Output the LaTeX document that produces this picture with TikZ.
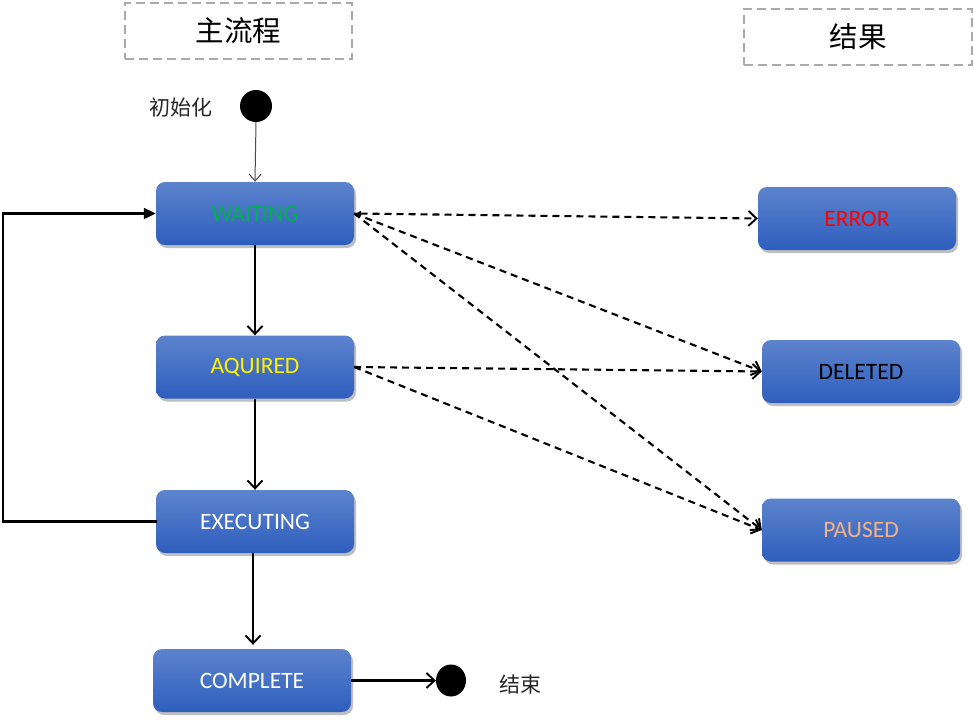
\documentclass[tikz,border=0pt]{standalone}
\usepackage{fontspec}
\setmainfont{Carlito}
\newfontfamily\cjk{Noto Sans CJK SC}
\usetikzlibrary{arrows.meta,shadows,positioning,shapes.geometric}
\definecolor{boxtop}{RGB}{92,131,205}
\definecolor{boxbot}{RGB}{46,94,189}
\definecolor{gframe}{RGB}{170,170,170}
\definecolor{wgreen}{RGB}{0,176,80}
\definecolor{porange}{RGB}{244,177,131}
\tikzset{
  statebox/.style={rectangle, rounded corners=9pt, minimum width=198pt, minimum height=63pt,
    inner sep=0pt, top color=boxtop, bottom color=boxbot, draw=none,
    drop shadow={shadow xshift=2pt, shadow yshift=-3pt, opacity=0.25, fill=black},
    font=\fontsize{23.5}{26}\selectfont},
  titlebox/.style={rectangle, draw=gframe, line width=2.2pt, dash pattern=on 9pt off 5pt,
    inner sep=0pt, font=\cjk\fontsize{28.5}{32}\selectfont},
  dot/.style={ellipse, fill=black, inner sep=0pt, minimum width=32pt, minimum height=32pt},
  lbl/.style={font=\cjk\fontsize{21}{24}\selectfont, text=black!85},
  tipo/.tip={Straight Barb[length=8pt,width=15pt,line width=1.9pt]},
  flow/.style={line width=2.1pt, -tipo},
  dflow/.style={line width=2.1pt, dash pattern=on 7pt off 5pt, -tipo},
}
\begin{document}
\begin{tikzpicture}[x=1pt,y=-1pt]
\useasboundingbox (0,0) rectangle (974,726);
\fill[white] (0,0) rectangle (974,726);
% titles
\node[titlebox, minimum width=227pt, minimum height=56pt] (tmain) at (238.5,31) {主流程};
\node[titlebox, minimum width=228pt, minimum height=56pt] (tres) at (858,37) {结果};
% start / end
\node[dot] (start) at (256,106) {};
\node[lbl] (initl) at (181,108) {初始化};
\node[dot, minimum width=30pt] (end) at (451,680.5) {};
\node[lbl] (endl) at (520,684) {结束};
% states
\node[statebox, text=wgreen] (waiting) at (255,213.5) {WAITING};
\node[statebox, text=yellow] (aquired) at (255,367) {AQUIRED};
\node[statebox, text=white] (executing) at (255,521.5) {EXECUTING};
\node[statebox, text=white] (complete) at (252,680.5) {COMPLETE};
\node[statebox, text=red] (error) at (857,218.5) {ERROR};
\node[statebox, text=black] (deleted) at (861,371.5) {DELETED};
\node[statebox, text=porange] (paused) at (861,530) {PAUSED};
% main flow
\draw[line width=1pt, draw=black!70, -{Straight Barb[length=7pt,width=12pt,line width=1pt]}] (start.south) -- (waiting.north);
\draw[flow] (waiting.south) -- (aquired.north);
\draw[flow] (aquired.south) -- (executing.north);
\draw[flow, shorten >=4pt] ([xshift=-2pt]executing.south) -- ([xshift=1pt]complete.north);
\draw[flow] (complete.east) -- (end.west);
\draw[line width=2.1pt, -{Triangle[length=12pt,width=11pt]}] ([xshift=1pt]executing.west) -- (3,521.5) |- (waiting.west);
% dashed results
\draw[dflow, {Latex[length=7pt,width=6pt]}-tipo] (waiting.east) -- (error.west);
\draw[dflow] (waiting.east) -- (deleted.west);
\draw[dflow] (waiting.east) -- (paused.west);
\draw[dflow] (aquired.east) -- (deleted.west);
\draw[dflow] (aquired.east) -- (paused.west);
\end{tikzpicture}
\end{document}
